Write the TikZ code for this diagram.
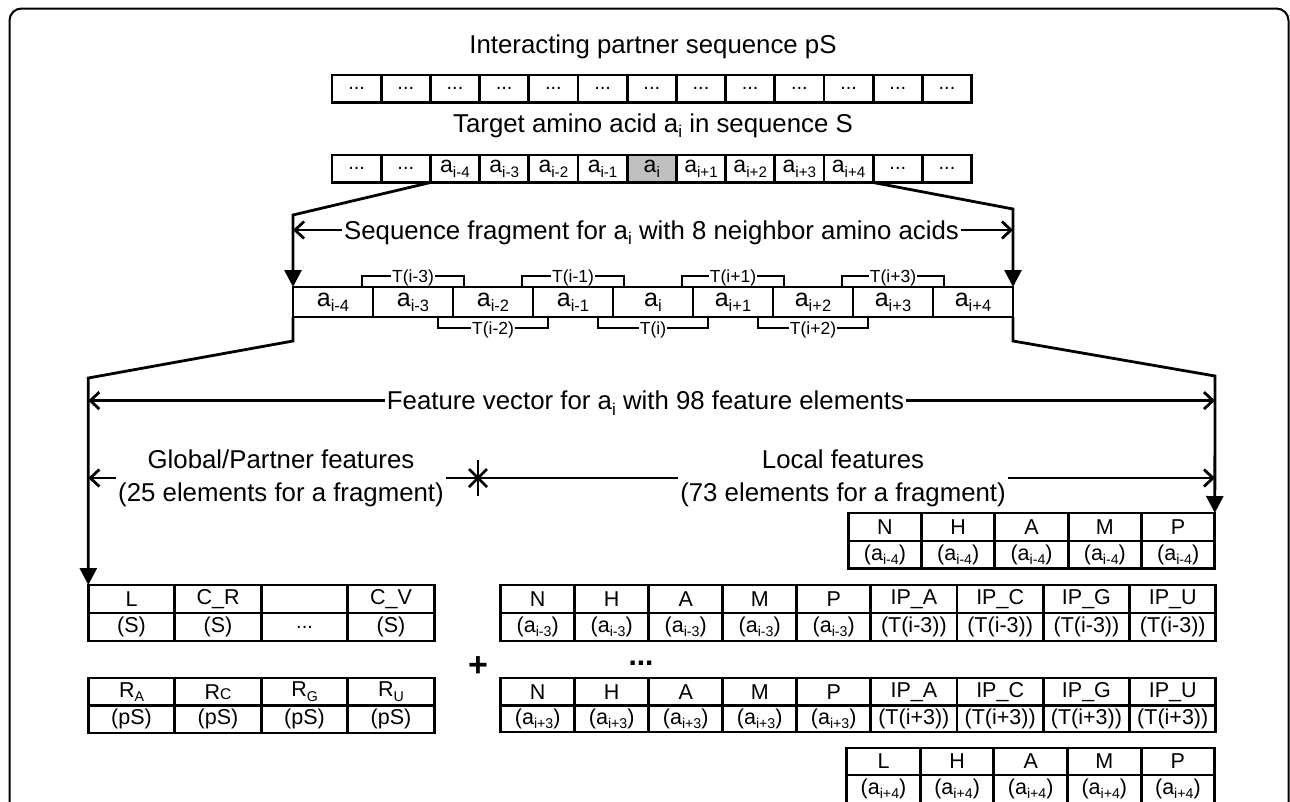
\documentclass[tikz,border=0pt]{standalone}
\usepackage{fontspec}
\setmainfont{Liberation Sans}
\usetikzlibrary{arrows.meta}
\definecolor{cellgray}{RGB}{192,192,192}
\newcommand\sbs[1]{\raisebox{-0.2em}{\scalebox{0.66}{#1}}}
\newcommand\dd{...}
\newcommand\fbig{\fontsize{25.8}{31}\selectfont}
\newcommand\fseq{\fontsize{23}{27}\selectfont}
\newcommand\fdots{\fontsize{20}{24}\selectfont}
\newcommand\ffrag{\fontsize{25}{29}\selectfont}
\newcommand\ftab{\fontsize{21.5}{25}\selectfont}
\newcommand\fbr{\fontsize{17.5}{20}\selectfont}
\begin{document}
\begin{tikzpicture}[x=1pt,y=-1pt,
  conn/.style={line width=2.8pt},
  barb/.style={-{Straight Barb[length=9pt,width=17pt]}},
  tri/.style={-{Triangle[length=17pt,width=17pt]}},
  box/.style={draw, line width=2.9pt, inner sep=0pt, outer sep=0pt, anchor=north west},
  lbl/.style={inner sep=2pt, text height=18.5pt, text depth=0pt, font=\fbig},
  brl/.style={fill=white, inner sep=1pt, text height=12.5pt, text depth=0pt, font=\fbr},
]
\clip (0,0) rectangle (1290,801);
\draw[line width=2pt, rounded corners=12pt] (9.5,830) -- (9.5,8.5) -- (1288.5,8.5) -- (1288.5,830);

% titles
\node[lbl, anchor=base] (t1) at (653,53) {Interacting partner sequence pS};
\node[lbl, anchor=base] (t2) at (653,132) {Target amino acid a\sbs{i} in sequence S};

% partner sequence row
\foreach \i in {0,...,12}
  \node[box, minimum width=49.2pt, minimum height=27.5pt, font=\fdots] (p\i) at ({332+49.2*\i},75) {\dd};

% target sequence row
\node[box, fill=cellgray, minimum width=49.2pt, minimum height=27.5pt, font=\fseq] (c6) at ({332+49.2*6},155) {a\sbs{i}};
\foreach \i/\t in {0/\fdots\dd,1/\fdots\dd,2/a\sbs{i-4},3/a\sbs{i-3},4/a\sbs{i-2},5/a\sbs{i-1},7/a\sbs{i+1},8/a\sbs{i+2},9/a\sbs{i+3},10/a\sbs{i+4},11/\fdots\dd,12/\fdots\dd}
  \node[box, minimum width=49.2pt, minimum height=27.5pt, font=\fseq] (c\i) at ({332+49.2*\i},155) {\t};

% fragment row
\foreach \i/\t in {0/i-4,1/i-3,2/i-2,3/i-1,4/i,5/i+1,6/i+2,7/i+3,8/i+4}
  \node[box, minimum width=80pt, minimum height=30pt, font=\ffrag] (f\i) at ({293+80*\i},287) {a\sbs{\t}};

% T brackets
\foreach \i/\t in {1/i-3,3/i-1,5/i+1,7/i+3} {
  \draw[conn] ([xshift=-51pt]f\i.north) -- ++(0,-11) -- ++(102,0) -- ++(0,11);
  \node[brl] (ub\i) at ([yshift=11pt]f\i.north) {T(\t)};
}
\foreach \i/\t in {2/i-2,4/i,6/i+2} {
  \draw[conn] ([xshift=-55pt]f\i.south) -- ++(0,11) -- ++(110,0) -- ++(0,-11);
  \node[brl] (lb\i) at ([yshift=-11pt]f\i.south) {T(\t)};
}

% sequence fragment connectors
\node[lbl] (sq) at (651.5,230) {Sequence fragment for a\sbs{i} with 8 neighbor amino acids};
\coordinate (L1) at (293,215);
\coordinate (R1) at (1013,209);
\draw[conn,tri] (c2.south west) -- (L1) -- (f0.north west);
\draw[conn,tri] (c10.south east) -- (R1) -- (f8.north east);
\draw[conn,barb] (sq.west) -- (sq.west -| L1);
\draw[conn,barb] (sq.east) -- (sq.east -| R1);

% left tables
\foreach \i/\a/\b in {0/L/(S),1/C\_R/(S),2/{}/\fdots\dd,3/C\_V/(S)} {
  \node[box, minimum width=86.5pt, minimum height=28pt, font=\ftab] (g\i) at ({88.3+86.5*\i},585) {\a};
  \node[box, minimum width=86.5pt, minimum height=28pt, font=\ftab] (gs\i) at ({88.3+86.5*\i},613) {\b};
}
\foreach \i/\a in {0/R\sbs{A},1/R{\fontsize{15.5}{18}\selectfont C},2/R\sbs{G},3/R\sbs{U}} {
  \node[box, minimum width=86.5pt, minimum height=27.5pt, font=\ftab] (k\i) at ({88.3+86.5*\i},678) {\a};
  \node[box, minimum width=86.5pt, minimum height=27.5pt, font=\ftab] (ks\i) at ({88.3+86.5*\i},705.5) {(pS)};
}

% right tables
\foreach \i/\a in {0/N,1/H,2/A,3/M,4/P} {
  \node[box, minimum width=73.3pt, minimum height=28pt, font=\ftab] (h\i) at ({848.3+73.3*\i},513) {\a};
  \node[box, minimum width=73.3pt, minimum height=27.5pt, font=\ftab] (hs\i) at ({848.3+73.3*\i},541) {(a\sbs{i-4})};
  \node[box, minimum width=74pt, minimum height=28pt, font=\ftab] (m\i) at ({500.7+74*\i},585) {\a};
  \node[box, minimum width=74pt, minimum height=28pt, font=\ftab] (ms\i) at ({500.7+74*\i},613) {(a\sbs{i-3})};
  \node[box, minimum width=74pt, minimum height=27.5pt, font=\ftab] (n\i) at ({500.7+74*\i},678) {\a};
  \node[box, minimum width=74pt, minimum height=26.5pt, font=\ftab] (ns\i) at ({500.7+74*\i},705.5) {(a\sbs{i+3})};
}
\foreach \i/\a in {0/L,1/H,2/A,3/M,4/P} {
  \node[box, minimum width=73.6pt, minimum height=27pt, font=\ftab] (q\i) at ({846.7+73.6*\i},748) {\a};
  \node[box, minimum width=73.6pt, minimum height=28pt, font=\ftab] (qs\i) at ({846.7+73.6*\i},775) {(a\sbs{i+4})};
}
\foreach \i/\a in {0/A,1/C,2/G,3/U} {
  \node[box, minimum width=86.3pt, minimum height=28pt, font=\ftab] (mi\i) at ({870.7+86.3*\i},585) {IP\_\a};
  \node[box, minimum width=86.3pt, minimum height=28pt, font=\ftab] (mis\i) at ({870.7+86.3*\i},613) {(T(i-3))};
  \node[box, minimum width=86.3pt, minimum height=27.5pt, font=\ftab] (ni\i) at ({870.7+86.3*\i},678) {IP\_\a};
  \node[box, minimum width=86.3pt, minimum height=26.5pt, font=\ftab] (nis\i) at ({870.7+86.3*\i},705.5) {(T(i+3))};
}

% feature vector connectors
\coordinate (L2) at (293,341);
\coordinate (L3) at (88.3,378);
\coordinate (R2) at (1013,341);
\coordinate (R3) at (1215,376);
\draw[conn,tri] (f0.south west) -- (L2) -- (L3) -- (g0.north west);
\draw[conn,tri] (f8.south east) -- (R2) -- (R3) -- (h4.north east);
\node[lbl] (fv) at (645.5,400.6) {Feature vector for a\sbs{i} with 98 feature elements};
\draw[conn,barb] (fv.west) -- (fv.west -| L3);
\draw[conn,barb] (fv.east) -- (fv.east -| R3);

% global / local split
\coordinate (st) at (478,478);
\draw[conn] ([yshift=18pt]st) -- ([yshift=-18pt]st);
\draw[conn] ([shift={(-9pt,9pt)}]st) -- ([shift={(9pt,-9pt)}]st);
\draw[conn] ([shift={(-9pt,-9pt)}]st) -- ([shift={(9pt,9pt)}]st);
\node[font=\fbig, anchor=base, inner sep=2pt] (gp1) at (281,468) {Global/Partner features};
\node[font=\fbig, anchor=base, inner sep=2pt] (gp2) at (281,501) {(25 elements for a fragment)};
\node[font=\fbig, anchor=base, inner sep=2pt] (lf1) at (843,468) {Local features};
\node[font=\fbig, anchor=base, inner sep=2pt] (lf2) at (843,501) {(73 elements for a fragment)};
\draw[conn,barb] (gp2.west |- st) -- (st -| L3);
\draw[conn] (gp2.east |- st) -- (st);
\draw[conn] (st) -- (lf2.west |- st);
\draw[conn,barb] (lf2.east |- st) -- (st -| R3);

% plus and dots
\node[font=\fontsize{34}{40}\selectfont\bfseries, inner sep=0pt] (plus) at (478,667) {+};
\node[font=\fontsize{30}{36}\selectfont\bfseries, inner sep=0pt] (dots) at (641,663) {\dd};
\end{tikzpicture}
\end{document}
